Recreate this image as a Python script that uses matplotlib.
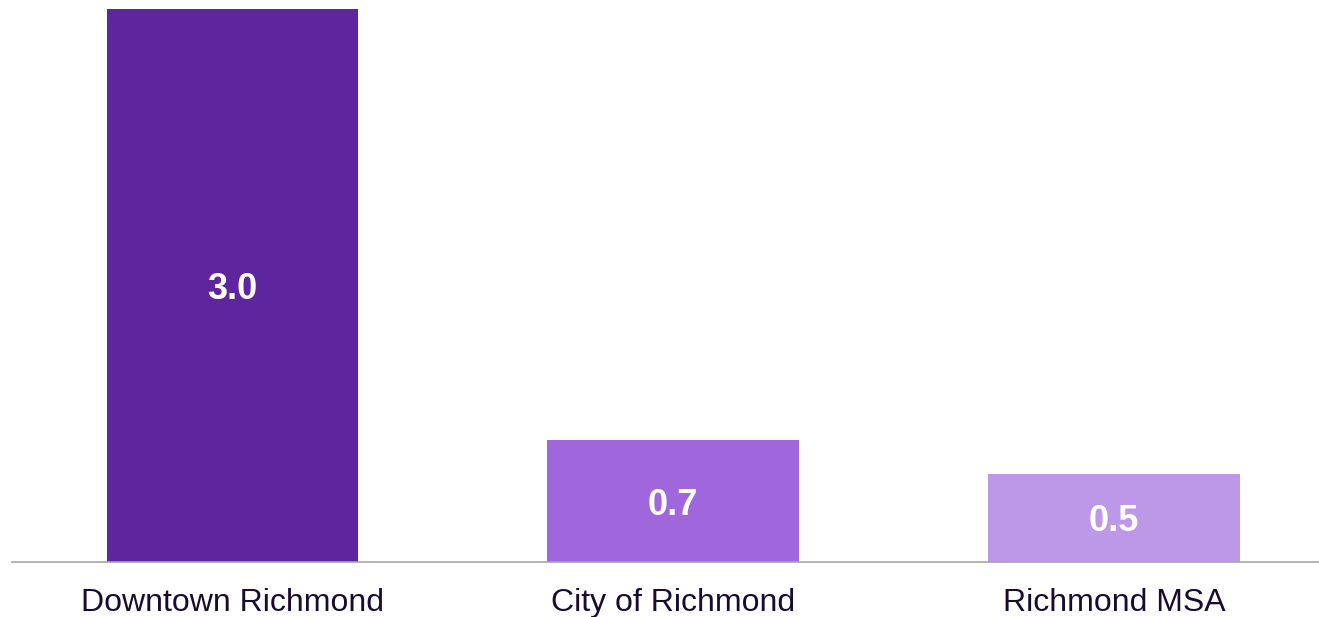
import matplotlib
matplotlib.use('Agg')
from matplotlib import pyplot as plt

categories = ['Downtown Richmond', 'City of Richmond', 'Richmond MSA']
values = [3.0, 0.66, 0.48]
labels = ['3.0', '0.7', '0.5']
colors = ['#5E259E', '#A066DC', '#BD98E8']

plt.rcParams['font.family'] = ['Liberation Sans', 'DejaVu Sans']

W, H = 1319, 617
fig = plt.figure(figsize=(W / 100, H / 100), dpi=100)
ax = fig.add_axes([12 / W, (H - 562) / H, (W - 12) / W, 553 / H])

x = range(len(categories))
bars = ax.bar(x, values, width=0.571, color=colors)
for bar, lab in zip(bars, labels):
    ax.text(bar.get_x() + bar.get_width() / 2, bar.get_height() / 2, lab,
            ha='center', va='center_baseline', color='white', fontsize=26, fontweight='bold')

ax.set_xlim(-0.5, 2.465)
ax.set_ylim(0, 3.0)
ax.set_xticks(list(x))
ax.set_xticklabels(categories, fontsize=23, color='#1A0A2E')
ax.tick_params(axis='x', length=0, pad=19)
ax.set_yticks([])
for side in ['top', 'right', 'left']:
    ax.spines[side].set_visible(False)
ax.spines['bottom'].set_color('#A6A6A6')
ax.spines['bottom'].set_linewidth(1.2)

fig.savefig('out.png', dpi=100)
